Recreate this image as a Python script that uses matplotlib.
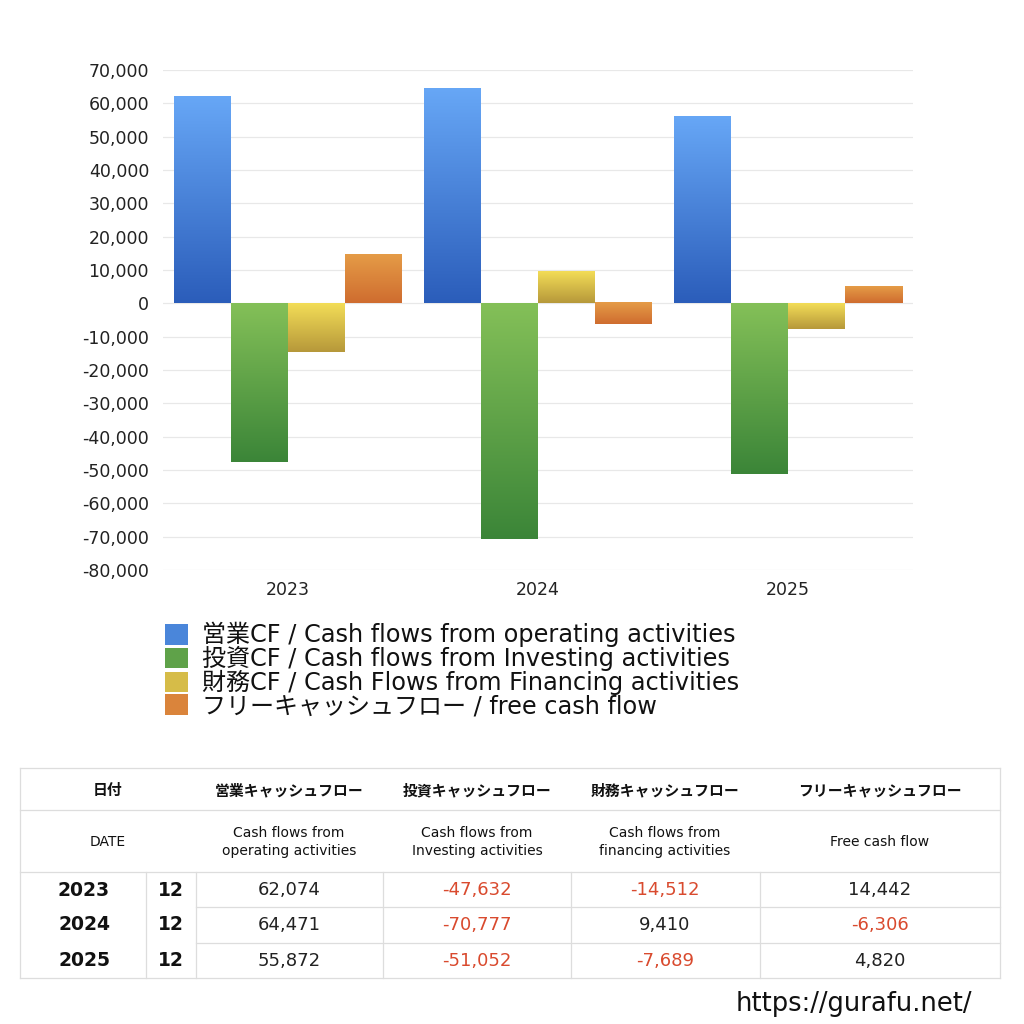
import numpy as np
import matplotlib
matplotlib.use("Agg")
import matplotlib.pyplot as plt
from matplotlib.patches import Patch
from matplotlib.colors import LinearSegmentedColormap

plt.rcParams['font.family'] = ['DejaVu Sans', 'Noto Sans CJK JP']

years = ["2023", "2024", "2025"]
months = ["12", "12", "12"]
operating = [62074, 64471, 55872]
investing = [-47632, -70777, -51052]
financing = [-14512, 9410, -7689]
free_cf = [14442, -6306, 4820]

series_labels = [
    "営業CF / Cash flows from operating activities",
    "投資CF / Cash flows from Investing activities",
    "財務CF / Cash Flows from Financing activities",
    "フリーキャッシュフロー / free cash flow",
]
series_values = [operating, investing, financing, free_cf]
grad_colors = [
    ("#67A7F6", "#2B5DBA"),
    ("#84C058", "#3B8538"),
    ("#F3DD57", "#B6983A"),
    ("#E59C47", "#CF6C2F"),
]
mid_colors = ["#4A86DA", "#5FA249", "#D6BC48", "#DA843B"]

yticks = list(range(-80000, 70001, 10000))

fig = plt.figure(figsize=(10.24, 10.24), dpi=100)
W = H = 1024.0
ax = fig.add_axes([163 / W, 1 - 570 / H, 750 / W, 500 / H])

x = np.arange(len(years))
bw = 0.228
offsets = [-1.5 * bw, -0.5 * bw, 0.5 * bw, 1.5 * bw]
grad = np.linspace(0, 1, 256).reshape(-1, 1)
for vals, off, (c_top, c_bot) in zip(series_values, offsets, grad_colors):
    bars = ax.bar(x + off, vals, width=bw, color="none", edgecolor="none", zorder=2)
    cmap = LinearSegmentedColormap.from_list("g", [c_top, c_bot])
    for p in bars.patches:
        x0 = p.get_x()
        x1 = x0 + p.get_width()
        y0 = p.get_y()
        y1 = y0 + p.get_height()
        lo, hi = min(y0, y1), max(y0, y1)
        ax.imshow(grad, cmap=cmap, extent=[x0, x1, lo, hi], origin="upper",
                  aspect="auto", zorder=2, interpolation="bilinear")

ax.set_xlim(-0.5, 2.5)
ax.set_ylim(-80000, 70000)
ax.set_yticks(yticks)
ax.set_yticklabels([f"{v:,}" for v in yticks], fontsize=12.5, color="#222222")
ax.set_xticks(x)
ax.set_xticklabels(years, fontsize=12.5, color="#222222")
ax.tick_params(axis="both", length=0)
ax.tick_params(axis="y", pad=10)
ax.tick_params(axis="x", pad=8)
ax.grid(axis="y", color="#E8E8E8", linewidth=0.9, zorder=0)
ax.set_axisbelow(True)
for s in ax.spines.values():
    s.set_visible(False)

handles = [Patch(facecolor=c, edgecolor="none") for c in mid_colors]
fig.legend(handles, series_labels, loc="upper left",
           bbox_to_anchor=(165 / W, 1 - 622 / H), frameon=False,
           fontsize=17.3, handlelength=0.95, handleheight=0.95,
           handletextpad=0.6, labelspacing=-0.05, borderpad=0, borderaxespad=0,
           labelcolor="#111111")

# ---- table ----
def fx(px):
    return px / W

def fy(py):
    return 1 - py / H

line_c = "#DDDDDD"
T_L, T_R = 20, 1000
col_x = [20, 146, 196, 383, 571, 760, 1000]

def hline(y, x0, x1):
    fig.add_artist(plt.Line2D([fx(x0), fx(x1)], [fy(y), fy(y)], color=line_c, lw=0.9))

def vline(x_, y0, y1):
    fig.add_artist(plt.Line2D([fx(x_), fx(x_)], [fy(y0), fy(y1)], color=line_c, lw=0.9))

hline(768, T_L, T_R)
hline(810, T_L, T_R)
hline(872, T_L, T_R)
hline(907, 196, T_R)
hline(943, 196, T_R)
hline(978, T_L, T_R)
vline(T_L, 768, 978)
vline(T_R, 768, 978)
for cx in col_x[1:-1]:
    vline(cx, 872, 978)

head_jp = ["日付", "営業キャッシュフロー", "投資キャッシュフロー", "財務キャッシュフロー", "フリーキャッシュフロー"]
head_en = ["DATE", "Cash flows from\noperating activities", "Cash flows from\nInvesting activities",
           "Cash flows from\nfinancing activities", "Free cash flow"]
head_cx = [108, 289, 477, 665, 880]
for t, cx in zip(head_jp, head_cx):
    fig.text(fx(cx), fy(790), t, ha="center", va="center", fontsize=10.7, fontweight="bold",
             color="#111111", family=["Noto Sans CJK JP"])
for t, cx in zip(head_en, head_cx):
    fig.text(fx(cx), fy(842), t, ha="center", va="center", fontsize=10, color="#111111",
             linespacing=1.4)

red = "#D94A2E"
row_cy = [890, 925, 961]
val_cx = [289, 477, 665, 880]
for i in range(len(years)):
    fig.text(fx(84), fy(row_cy[i]), years[i], ha="center", va="center", fontsize=13.5,
             fontweight="bold", color="#111111")
    fig.text(fx(171), fy(row_cy[i]), months[i], ha="center", va="center", fontsize=13.5,
             fontweight="bold", color="#111111")
    for vals, cx in zip(series_values, val_cx):
        v = vals[i]
        fig.text(fx(cx), fy(row_cy[i]), f"{v:,}", ha="center", va="center", fontsize=13,
                 color=red if v < 0 else "#222222")

fig.text(fx(972), fy(1004), "https://gurafu.net/", ha="right", va="center", fontsize=18.5,
         color="#111111")

fig.savefig("out.png", dpi=100, facecolor="white")
